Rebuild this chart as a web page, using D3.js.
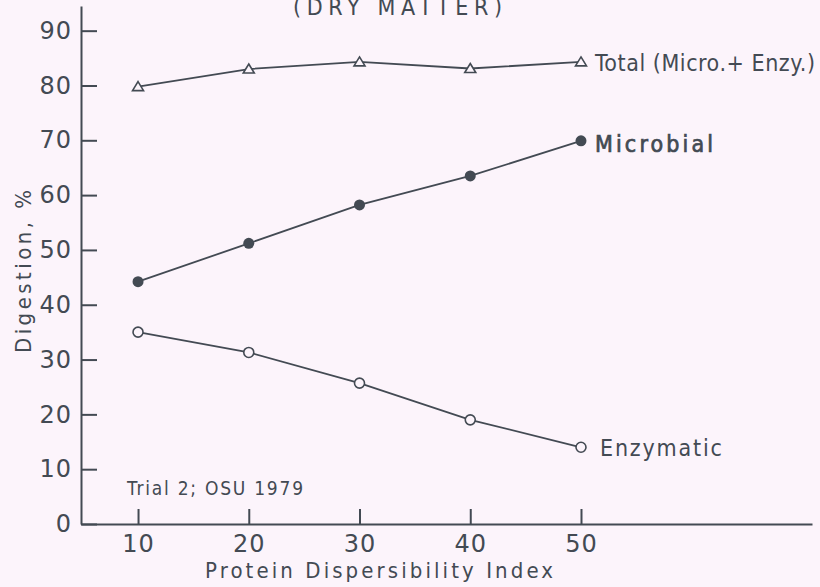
<!DOCTYPE html>
<html>
<head>
<meta charset="utf-8">
<script src="https://cdn.jsdelivr.net/npm/d3@7"></script>
<style>
  html, body { margin: 0; padding: 0; background: #fcf4fb; }
  text { font-family: "DejaVu Sans Condensed", "DejaVu Sans", sans-serif; fill: #434a53; }
</style>
</head>
<body>
<script>
const pdi = [10, 20, 30, 40, 50];
const total = [79.8, 83.0, 84.3, 83.1, 84.3];
const microbial = [44.2, 51.2, 58.2, 63.5, 69.9];
const enzymatic = [35.0, 31.3, 25.7, 19.0, 14.0];
const xTicks = [10, 20, 30, 40, 50];
const yTicks = [0, 10, 20, 30, 40, 50, 60, 70, 80, 90];

const width = 820;
const height = 587;
const ink = "#434a53";
const paper = "#fcf4fb";

const svg = d3.select("body")
  .append("svg")
  .attr("width", width)
  .attr("height", height);

svg.append("rect")
  .attr("width", "100%")
  .attr("height", "100%")
  .attr("fill", paper);

const x = d3.scaleLinear().domain([4.85, 70.86]).range([81, 812]);
const y = d3.scaleLinear().domain([0, 94.5]).range([524, 6]);

// y axis, ticks pointing inward
const yAxis = svg.append("g")
  .attr("transform", "translate(81,0)")
  .call(d3.axisLeft(y).tickValues(yTicks).tickSizeInner(-16).tickSizeOuter(0).tickPadding(9));

// x axis, ticks pointing up
const xAxis = svg.append("g")
  .attr("transform", "translate(0,524)")
  .call(d3.axisBottom(x).tickValues(xTicks).tickSizeInner(-15).tickSizeOuter(0).tickPadding(11));

[xAxis, yAxis].forEach(function (g) {
  g.select(".domain").attr("stroke", ink).attr("stroke-width", 2);
  g.selectAll(".tick line").attr("stroke", ink).attr("stroke-width", 2);
  g.selectAll(".tick text")
    .attr("fill", ink)
    .style("font-family", "DejaVu Sans, sans-serif")
    .style("font-size", "24px")
    .style("letter-spacing", "1px");
});

const line = d3.line()
  .x(function (d, i) { return x(pdi[i]); })
  .y(function (d) { return y(d); });

[total, microbial, enzymatic].forEach(function (s) {
  svg.append("path")
    .datum(s)
    .attr("fill", "none")
    .attr("stroke", ink)
    .attr("stroke-width", 1.8)
    .attr("d", line);
});

// total: open triangles
svg.selectAll(".tri")
  .data(total)
  .join("path")
  .attr("class", "tri")
  .attr("transform", function (d, i) { return "translate(" + x(pdi[i]) + "," + y(d) + ")"; })
  .attr("d", "M0,-5L5.5,4L-5.5,4Z")
  .attr("fill", paper)
  .attr("stroke", ink)
  .attr("stroke-width", 1.6);

// microbial: filled circles
svg.selectAll(".dot")
  .data(microbial)
  .join("circle")
  .attr("class", "dot")
  .attr("cx", function (d, i) { return x(pdi[i]); })
  .attr("cy", function (d) { return y(d); })
  .attr("r", 5.5)
  .attr("fill", ink);

// enzymatic: open circles
svg.selectAll(".ring")
  .data(enzymatic)
  .join("circle")
  .attr("class", "ring")
  .attr("cx", function (d, i) { return x(pdi[i]); })
  .attr("cy", function (d) { return y(d); })
  .attr("r", 5)
  .attr("fill", paper)
  .attr("stroke", ink)
  .attr("stroke-width", 1.6);

function label(txt, px, py, size, len) {
  return svg.append("text")
    .attr("x", px).attr("y", py)
    .attr("textLength", len)
    .attr("lengthAdjust", "spacing")
    .style("font-size", size + "px")
    .text(txt);
}

// series labels
label("Total (Micro.+ Enzy.)", 595, 71, 23, 220);
label("Microbial", 595, 152, 23, 118)
  .attr("stroke", ink)
  .attr("stroke-width", 0.7); // a bit heavier, as in the scan
label("Enzymatic", 600, 456, 23, 122);

// title, cut off at top as in the original scan
label("(DRY MATTER)", 293, 15, 23, 209);

label("Trial 2; OSU 1979", 127, 495, 19, 176);

label("Protein Dispersibility Index", 205, 578, 22, 348);

svg.append("text")
  .attr("transform", "translate(31,353) rotate(-90)")
  .attr("textLength", 163)
  .attr("lengthAdjust", "spacing")
  .style("font-size", "22px")
  .text("Digestion, %");
</script>
</body>
</html>
